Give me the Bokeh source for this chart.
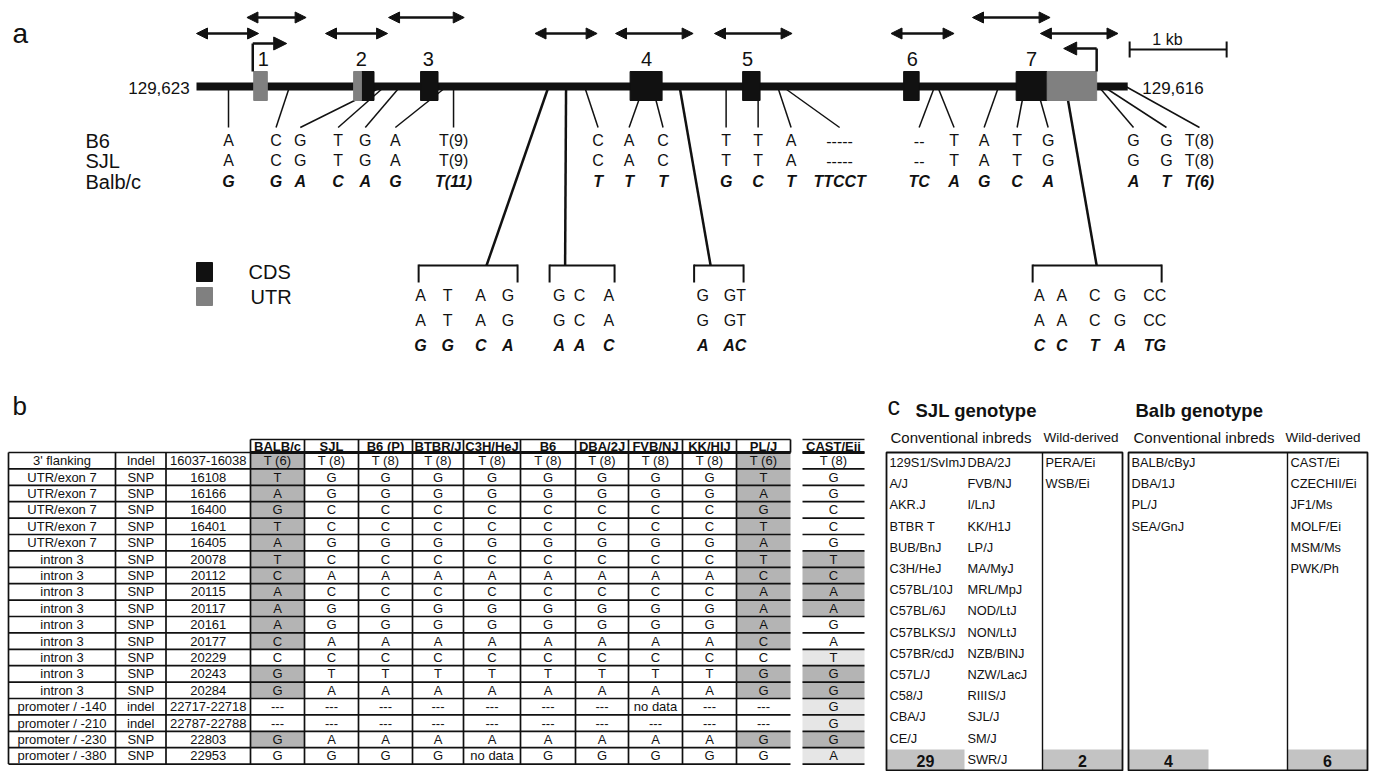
from bokeh.plotting import figure
from bokeh.models import Range1d, ColumnDataSource, Arrow, NormalHead
from bokeh.core.properties import value
from bokeh.embed import file_html
from bokeh.resources import INLINE

FONT = value("Liberation Sans")
INK = "#111111"
GREY_UTR = "#808080"
DARK = "#b4b4b4"
LIGHT = "#e6e6e6"

# ---------------- panel a data (positions in kb from the 129,623 end) ----------------
gene_span = [0.0, 9.6]
cds_start = [1.70, 2.31, 4.47, 5.63, 7.29, 8.45]
cds_end = [1.83, 2.49, 4.80, 5.81, 7.45, 8.77]
utr_start = [0.59, 1.62, 8.77]
utr_end = [0.73, 1.70, 9.28]
exon_names = ["1", "2", "3", "4", "5", "6", "7"]
exon_label_kb = [0.69, 1.70, 2.39, 4.64, 5.68, 7.38, 8.61]
amp_upper_start = [0.52, 1.98, 8.00]
amp_upper_end = [1.13, 2.76, 8.80]
amp_lower_start = [0.00, 1.33, 3.49, 4.32, 5.34, 7.16, 8.70]
amp_lower_end = [0.64, 1.97, 4.13, 5.12, 6.14, 7.81, 9.50]
tss_kb = [0.58, 9.28]
tss_tip_kb = [0.93, 8.94]
scale_bar_start = 9.62
scale_bar_len = 1.0
end_labels = ["129,623", "129,616"]

snp_gene_kb = [0.33, 0.96, 1.92, 1.94, 2.10, 2.58, 2.65, 4.00, 4.61, 4.70, 5.46,
               5.79, 5.99, 6.04, 7.61, 7.64, 8.27, 8.54, 8.66, 9.30, 9.35, 9.58]
snp_text_kb = [0.33, 0.82, 1.07, 1.46, 1.74, 2.05, 2.65, 4.14, 4.46, 4.81, 5.46,
               5.79, 6.13, 6.63, 7.45, 7.81, 8.12, 8.46, 8.78, 9.66, 10.00, 10.34]
b6_alleles = ["A", "C", "G", "T", "G", "A", "T(9)", "C", "A", "C", "T",
              "T", "A", "-----", "--", "T", "A", "T", "G", "G", "G", "T(8)"]
sjl_alleles = ["A", "C", "G", "T", "G", "A", "T(9)", "C", "A", "C", "T",
               "T", "A", "-----", "--", "T", "A", "T", "G", "G", "G", "T(8)"]
balb_alleles = ["G", "G", "A", "C", "A", "G", "T(11)", "T", "T", "T", "G",
                "C", "T", "TTCCT", "TC", "A", "G", "C", "A", "A", "T", "T(6)"]
allele_rows = ["B6", "SJL", "Balb/c"]

grp_gene_kb = [3.63, 3.81, 4.98, 8.96]
grp_join_kb = [2.99, 3.80, 5.30, 9.28]
grp_left_kb = [2.29, 3.64, 5.13, 8.62]
grp_right_kb = [3.31, 4.31, 5.64, 9.95]
grp_text_kb = [[2.31, 2.59, 2.93, 3.21], [3.74, 3.95, 4.25], [5.22, 5.55],
               [8.69, 8.92, 9.26, 9.52, 9.88]]
grp_b6 = [["A", "T", "A", "G"], ["G", "C", "A"], ["G", "GT"], ["A", "A", "C", "G", "CC"]]
grp_sjl = [["A", "T", "A", "G"], ["G", "C", "A"], ["G", "GT"], ["A", "A", "C", "G", "CC"]]
grp_balb = [["G", "G", "C", "A"], ["A", "A", "C"], ["A", "AC"], ["C", "C", "T", "A", "TG"]]
legend_labels = ["CDS", "UTR"]

# ---------------- panel b data ----------------
regions = ["3' flanking", "UTR/exon 7", "UTR/exon 7", "UTR/exon 7", "UTR/exon 7", "UTR/exon 7",
           "intron 3", "intron 3", "intron 3", "intron 3", "intron 3", "intron 3", "intron 3",
           "intron 3", "intron 3", "promoter / -140", "promoter / -210", "promoter / -230",
           "promoter / -380"]
var_types = ["Indel", "SNP", "SNP", "SNP", "SNP", "SNP", "SNP", "SNP", "SNP", "SNP", "SNP",
             "SNP", "SNP", "SNP", "SNP", "indel", "indel", "SNP", "SNP"]
positions = ["16037-16038", "16108", "16166", "16400", "16401", "16405", "20078", "20112",
             "20115", "20117", "20161", "20177", "20229", "20243", "20284", "22717-22718",
             "22787-22788", "22803", "22953"]
strain_headers = ["BALB/c", "SJL", "B6 (P)", "BTBR/J", "C3H/HeJ", "B6", "DBA/2J", "FVB/NJ",
                  "KK/HIJ", "PL/J"]
balbc_vals = ["T (6)", "T", "A", "G", "T", "A", "T", "C", "A", "A", "A", "C", "C", "G", "G",
              "---", "---", "G", "G"]
sjl_vals = ["T (8)", "G", "G", "C", "C", "G", "C", "A", "C", "G", "G", "A", "C", "T", "A",
            "---", "---", "A", "G"]
b6p_vals = ["T (8)", "G", "G", "C", "C", "G", "C", "A", "C", "G", "G", "A", "C", "T", "A",
            "---", "---", "A", "G"]
btbr_vals = ["T (8)", "G", "G", "C", "C", "G", "C", "A", "C", "G", "G", "A", "C", "T", "A",
             "---", "---", "A", "G"]
c3h_vals = ["T (8)", "G", "G", "C", "C", "G", "C", "A", "C", "G", "G", "A", "C", "T", "A",
            "---", "---", "A", "no data"]
b6_vals = ["T (8)", "G", "G", "C", "C", "G", "C", "A", "C", "G", "G", "A", "C", "T", "A",
           "---", "---", "A", "G"]
dba2_vals = ["T (8)", "G", "G", "C", "C", "G", "C", "A", "C", "G", "G", "A", "C", "T", "A",
             "---", "---", "A", "G"]
fvb_vals = ["T (8)", "G", "G", "C", "C", "G", "C", "A", "C", "G", "G", "A", "C", "T", "A",
            "no data", "---", "A", "G"]
kk_vals = ["T (8)", "G", "G", "C", "C", "G", "C", "A", "C", "G", "G", "A", "C", "T", "A",
           "---", "---", "A", "G"]
plj_vals = ["T (6)", "T", "A", "G", "T", "A", "T", "C", "A", "A", "A", "C", "C", "G", "G",
            "---", "---", "G", "G"]
cast_header = "CAST/Eij"
cast_vals = ["T (8)", "G", "G", "C", "C", "G", "T", "C", "A", "A", "G", "A", "T", "G", "G",
             "G", "G", "G", "A"]
placeholders = ["---", "no data"]

# ---------------- panel c data ----------------
sjl_conv_col1 = ["129S1/SvImJ", "A/J", "AKR.J", "BTBR T", "BUB/BnJ", "C3H/HeJ", "C57BL/10J",
                 "C57BL/6J", "C57BLKS/J", "C57BR/cdJ", "C57L/J", "C58/J", "CBA/J", "CE/J"]
sjl_conv_col2 = ["DBA/2J", "FVB/NJ", "I/LnJ", "KK/H1J", "LP/J", "MA/MyJ", "MRL/MpJ", "NOD/LtJ",
                 "NON/LtJ", "NZB/BINJ", "NZW/LacJ", "RIIIS/J", "SJL/J", "SM/J", "SWR/J"]
sjl_wild = ["PERA/Ei", "WSB/Ei"]
balb_conv = ["BALB/cByJ", "DBA/1J", "PL/J", "SEA/GnJ"]
balb_wild = ["CAST/Ei", "CZECHII/Ei", "JF1/Ms", "MOLF/Ei", "MSM/Ms", "PWK/Ph"]
genotype_titles = ["SJL genotype", "Balb genotype"]

# ---------------- figure ----------------
p = figure(width=1374, height=771, x_range=Range1d(0, 1374), y_range=Range1d(771, 0),
           output_backend="svg", toolbar_location=None, min_border=0,
           x_axis_location=None, y_axis_location=None, outline_line_color=None,
           background_fill_color="white", border_fill_color="white")
p.grid.visible = False
p.extra_x_ranges = {"kb": Range1d(-196 / 97, 1178 / 97)}


def txt(x, y, texts, size, align="center", style="normal", color=INK, xr=None):
    src = ColumnDataSource(dict(x=list(x), y=list(y), t=list(texts)))
    kw = {"x_range_name": xr} if xr else {}
    p.text(x="x", y="y", text="t", source=src, text_font=FONT, text_font_size=f"{size}px",
           text_align=align, text_baseline="middle", text_font_style=style,
           text_color=color, **kw)


def seg(x0, y0, x1, y1, width, xr=None, color=INK):
    kw = {"x_range_name": xr} if xr else {}
    p.segment(x0=list(x0), y0=list(y0), x1=list(x1), y1=list(y1), line_color=color,
              line_width=width, **kw)


# ---- panel a ----
GENE_Y = 86
LINE_END = 127
ROW_Y = [140, 160, 181]
LOW_Y = [295, 320, 345]
BR_Y = 265

seg(snp_gene_kb, [GENE_Y] * len(snp_gene_kb), snp_text_kb, [LINE_END] * len(snp_text_kb), 1.5, "kb")
seg(grp_gene_kb, [GENE_Y] * 4, grp_join_kb, [BR_Y] * 4, 2.5, "kb")
seg(grp_left_kb, [BR_Y] * 4, grp_right_kb, [BR_Y] * 4, 2, "kb")
seg(grp_left_kb + grp_right_kb, [BR_Y - 1] * 8, grp_left_kb + grp_right_kb, [BR_Y + 17] * 8, 2, "kb")

p.segment(x0=[gene_span[0]], y0=[GENE_Y], x1=[gene_span[1]], y1=[GENE_Y], line_width=8,
          line_color=INK, line_cap="butt", x_range_name="kb")
p.quad(left=cds_start, right=cds_end, top=[71] * 6, bottom=[100] * 6, fill_color=INK,
       line_color=INK, x_range_name="kb")
p.quad(left=utr_start, right=utr_end, top=[71] * 3, bottom=[100] * 3, fill_color=GREY_UTR,
       line_color=GREY_UTR, x_range_name="kb")
txt(exon_label_kb, [58] * 7, exon_names, 20, xr="kb")

for starts, ends, yy in [(amp_upper_start, amp_upper_end, 17), (amp_lower_start, amp_lower_end, 33)]:
    src = ColumnDataSource(dict(x0=starts, x1=ends, y=[yy] * len(starts)))
    p.add_layout(Arrow(x_start="x0", x_end="x1", y_start="y", y_end="y", source=src,
                       line_width=2.5, line_color=INK, x_range_name="kb",
                       start=NormalHead(size=11, fill_color=INK, line_color=INK),
                       end=NormalHead(size=11, fill_color=INK, line_color=INK)))

TSS_Y = [43, 48]
seg(tss_kb, [71, 71], tss_kb, TSS_Y, 2.5, "kb")
tsrc = ColumnDataSource(dict(x0=tss_kb, x1=tss_tip_kb, y=TSS_Y))
p.add_layout(Arrow(x_start="x0", x_end="x1", y_start="y", y_end="y", source=tsrc,
                   line_width=2.5, line_color=INK, x_range_name="kb",
                   end=NormalHead(size=13, fill_color=INK, line_color=INK)))

sb_end = scale_bar_start + scale_bar_len
seg([scale_bar_start, scale_bar_start, sb_end], [49, 41, 41], [sb_end, scale_bar_start, sb_end],
    [49, 57, 57], 2, "kb")
txt([scale_bar_start + 0.39], [39], [f"{scale_bar_len:g} kb"], 16, xr="kb")

txt([gene_span[0] - 0.07], [GENE_Y + 1], [end_labels[0]], 17, align="right", xr="kb")
txt([gene_span[1] + 0.15], [GENE_Y + 1], [end_labels[1]], 17, align="left", xr="kb")

txt([85] * 3, ROW_Y, allele_rows, 20, align="left")
txt(snp_text_kb, [ROW_Y[0]] * 22, b6_alleles, 16, xr="kb")
txt(snp_text_kb, [ROW_Y[1]] * 22, sjl_alleles, 16, xr="kb")
txt(snp_text_kb, [ROW_Y[2]] * 22, balb_alleles, 16, style="bold italic", xr="kb")
fx = [x for g in grp_text_kb for x in g]
txt(fx, [LOW_Y[0]] * len(fx), [a for g in grp_b6 for a in g], 16, xr="kb")
txt(fx, [LOW_Y[1]] * len(fx), [a for g in grp_sjl for a in g], 16, xr="kb")
txt(fx, [LOW_Y[2]] * len(fx), [a for g in grp_balb for a in g], 16, style="bold italic", xr="kb")

p.quad(left=[196, 196], right=[212, 212], top=[262, 287], bottom=[281, 305],
       fill_color=[INK, GREY_UTR], line_color=[INK, GREY_UTR])
txt([248, 250], [271, 296], legend_labels, 20, align="left")

txt([12], [33], ["a"], 28, align="left")
txt([12], [405], ["b"], 26, align="left")
txt([887], [405], ["c"], 25, align="left")

# ---- panel b ----
col_edges = [8, 115, 165.5, 250, 304, 358, 412, 463, 520, 575, 628, 682, 736, 790]
cast_edges = [802, 864]
HEAD_TOP, ROW_TOP, ROW_H = 439, 452, 16.4
TFS = 13
strain_cols = [balbc_vals, sjl_vals, b6p_vals, btbr_vals, c3h_vals, b6_vals, dba2_vals,
               fvb_vals, kk_vals, plj_vals]
nrow = len(regions)
yc = [ROW_TOP + (i + 0.5) * ROW_H for i in range(nrow)]

sl, sr, st, sb, sc = [], [], [], [], []
for j, col in enumerate(strain_cols):
    for i, v in enumerate(col):
        if v not in placeholders and v != sjl_vals[i]:
            sl.append(col_edges[3 + j]); sr.append(col_edges[4 + j])
            st.append(ROW_TOP + i * ROW_H); sb.append(ROW_TOP + (i + 1) * ROW_H); sc.append(DARK)
for i, v in enumerate(cast_vals):
    if v == sjl_vals[i]:
        continue
    sl.append(cast_edges[0]); sr.append(cast_edges[1])
    st.append(ROW_TOP + i * ROW_H); sb.append(ROW_TOP + (i + 1) * ROW_H)
    sc.append(DARK if v == balbc_vals[i] else LIGHT)
p.quad(left=sl, right=sr, top=st, bottom=sb, fill_color=sc, line_color=None)

hy = [ROW_TOP + i * ROW_H for i in range(nrow + 1)]
seg([col_edges[0]] * len(hy), hy, [col_edges[-1]] * len(hy), hy, 1.7)
seg([cast_edges[0]] * len(hy), hy, [cast_edges[1]] * len(hy), hy, 1.7)
vx = col_edges[:-1]
seg(vx, [ROW_TOP] * len(vx), vx, [ROW_TOP + nrow * ROW_H] * len(vx), 1.7)
hx = col_edges[3:]
seg(hx, [HEAD_TOP] * len(hx), hx, [ROW_TOP] * len(hx), 1.7)
seg([col_edges[3], cast_edges[0]], [HEAD_TOP, HEAD_TOP], [col_edges[-1], cast_edges[1]],
    [HEAD_TOP, HEAD_TOP], 1.7)
seg([col_edges[3], cast_edges[0]], [ROW_TOP, ROW_TOP], [col_edges[-1], cast_edges[1]],
    [ROW_TOP, ROW_TOP], 3.2)

cx = [(col_edges[k] + col_edges[k + 1]) / 2 for k in range(len(col_edges) - 1)]
ccast = (cast_edges[0] + cast_edges[1]) / 2
hy_c = (HEAD_TOP + ROW_TOP) / 2 + 0.5
txt(cx[3:] + [ccast], [hy_c] * 11, strain_headers + [cast_header], 13, style="bold")
txt([cx[0]] * nrow, yc, regions, TFS)
txt([cx[1]] * nrow, yc, var_types, TFS)
txt([cx[2]] * nrow, yc, positions, TFS)
for j, col in enumerate(strain_cols):
    txt([cx[3 + j]] * nrow, yc, col, TFS)
txt([ccast] * nrow, yc, cast_vals, TFS)

# ---- panel c ----
box1 = [886, 1042, 1122]
box2 = [1128, 1287, 1367]
BOX_TOP, BOX_BOT = 452, 770
CROW0, CROW_H = 462, 21.2
CNT_TOP = 749

counts = [len(sjl_conv_col1) + len(sjl_conv_col2), len(sjl_wild), len(balb_conv), len(balb_wild)]
cnt_left = [box1[0], box1[1], box2[0], box2[1]]
cnt_right = [964, box1[2], 1208, box2[2]]
p.quad(left=cnt_left, right=cnt_right, top=[CNT_TOP] * 4, bottom=[BOX_BOT] * 4,
       fill_color="#c3c3c3", line_color=None)
for b in (box1, box2):
    p.quad(left=[b[0]], right=[b[2]], top=[BOX_TOP], bottom=[BOX_BOT], fill_alpha=0,
           line_color=INK, line_width=1.8)
    seg([b[1]], [BOX_TOP], [b[1]], [BOX_BOT], 1.4)

txt([(l + r) / 2 for l, r in zip(cnt_left, cnt_right)], [760] * 4, [str(c) for c in counts], 16,
    style="bold")


def ry(n):
    return [CROW0 + k * CROW_H for k in range(n)]


SFS = 12.8
txt([889] * len(sjl_conv_col1), ry(len(sjl_conv_col1)), sjl_conv_col1, SFS, align="left")
txt([967] * len(sjl_conv_col2), ry(len(sjl_conv_col2)), sjl_conv_col2, SFS, align="left")
txt([1045] * len(sjl_wild), ry(len(sjl_wild)), sjl_wild, SFS, align="left")
txt([1131] * len(balb_conv), ry(len(balb_conv)), balb_conv, SFS, align="left")
txt([1290] * len(balb_wild), ry(len(balb_wild)), balb_wild, SFS, align="left")

txt([890, 1133], [437, 437], ["Conventional inbreds", "Conventional inbreds"], 15, align="left")
txt([1043, 1285], [437, 437], ["Wild-derived", "Wild-derived"], 13.5, align="left")
txt([915, 1135], [410, 410], genotype_titles, 18.5, align="left", style="bold")

open("out.html", "w").write(file_html(p, INLINE))
